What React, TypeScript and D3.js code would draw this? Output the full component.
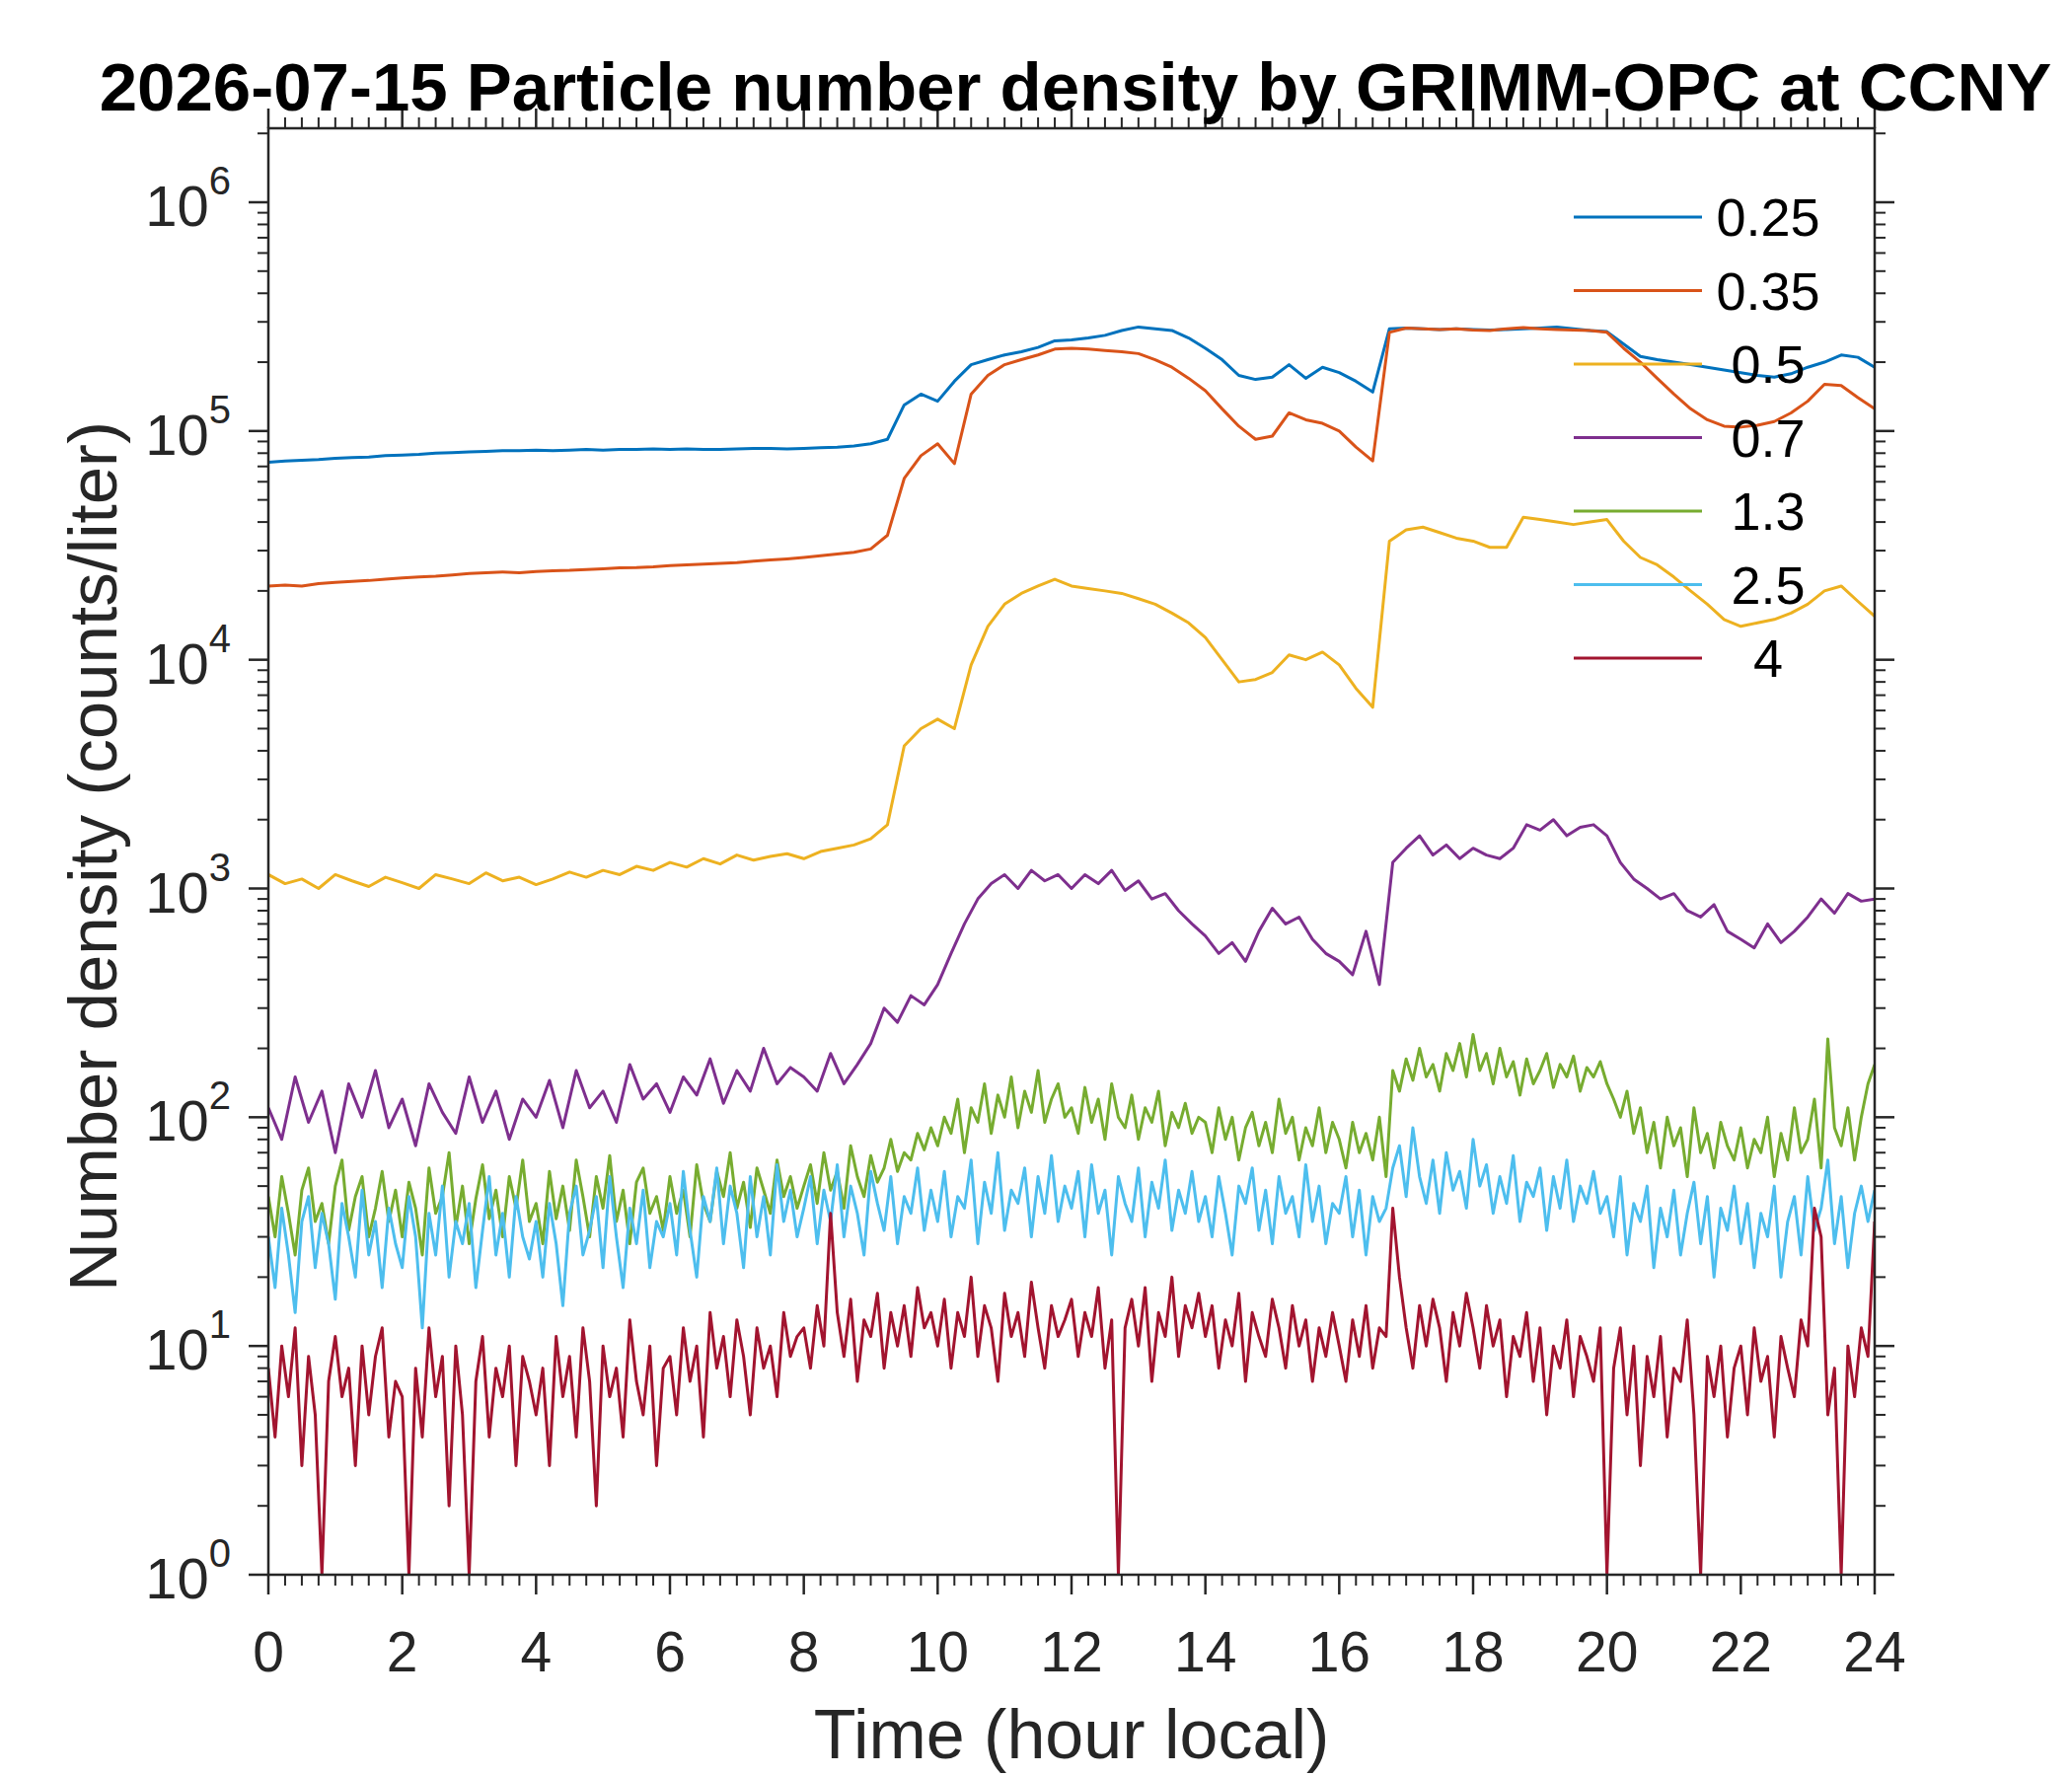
import React from "react";
import * as d3 from "d3";

const sizeLabels = ["0.25", "0.35", "0.5", "0.7", "1.3", "2.5", "4"];
const colors = ["#0072BD", "#D95319", "#EDB120", "#7E2F8E", "#77AC30", "#4DBEEE", "#A2142F"];
const xTicks = [0, 2, 4, 6, 8, 10, 12, 14, 16, 18, 20, 22, 24];
const yDecades = [0, 1, 2, 3, 4, 5, 6];

// 15-minute sampled series
const s025 = [
  73000,74000,74500,75000,76000,76500,77000,78000,78500,79000,80000,80500,81000,81500,82000,82000,82500,
  82000,82500,83000,82500,83000,83000,83500,83000,83500,83000,83000,83500,84000,84000,83500,84000,
  84500,85000,86000,88000,92000,130000,145000,135000,165000,195000,205000,215000,222000,232000,248000,250000,
  255000,262000,275000,285000,280000,275000,255000,230000,205000,175000,168000,172000,195000,170000,190000,180000,
  165000,148000,280000,282000,280000,278000,280000,278000,276000,278000,280000,282000,285000,280000,275000,272000,
  240000,212000,205000,200000,195000,190000,185000,180000,175000,172000,178000,190000,200000,215000,210000,190000,
];
const s035 = [
  21000,21200,21000,21500,21800,22000,22200,22500,22800,23000,23200,23500,23800,24000,24200,24000,24300,
  24500,24600,24800,25000,25200,25300,25500,25800,26000,26200,26400,26600,27000,27300,27600,28000,
  28500,29000,29500,30500,35000,62000,78000,88000,72000,145000,175000,195000,205000,215000,228000,230000,
  228000,225000,222000,218000,205000,190000,170000,150000,125000,105000,92000,95000,120000,112000,108000,100000,
  85000,74000,270000,282000,280000,278000,280000,276000,275000,280000,283000,280000,278000,276000,275000,270000,
  230000,200000,170000,145000,125000,112000,105000,104000,106000,110000,120000,135000,160000,158000,140000,125000,
];
const s05 = [
  1150,1050,1100,1000,1150,1080,1020,1120,1060,1000,1150,1100,1050,1170,1080,1120,1040,
  1100,1180,1120,1200,1150,1250,1200,1300,1240,1350,1280,1400,1330,1380,1420,1350,
  1450,1500,1550,1650,1900,4200,5000,5500,5000,9500,14000,17500,19500,21000,22500,21000,
  20500,20000,19500,18500,17500,16000,14500,12500,10000,8000,8200,8800,10500,10000,10800,9500,
  7500,6200,33000,37000,38000,36000,34000,33000,31000,31000,42000,41000,40000,39000,40000,41000,
  33000,28000,26000,23000,20000,17500,15000,14000,14500,15000,16000,17500,20000,21000,18000,15500,
];
// 12-minute sampled series
const s07 = [
  110,80,150,95,130,70,140,100,160,90,
  120,75,140,105,85,150,95,130,80,120,
  100,145,90,160,110,130,95,170,120,140,
  105,150,125,180,115,160,130,200,140,165,
  150,130,190,140,170,210,300,260,340,310,
  380,520,700,900,1050,1150,1000,1200,1080,1150,
  1000,1150,1050,1200,980,1080,900,950,800,700,
  620,520,580,480,650,820,700,750,600,520,
  480,420,650,380,1300,1500,1700,1400,1550,1350,
  1500,1400,1350,1500,1900,1800,2000,1700,1850,1900,
  1700,1300,1100,1000,900,950,800,750,850,650,
  600,550,700,580,650,750,900,780,950,880,
  900,
];
// 6-minute sampled series
const s13 = [
  45,30,55,38,25,48,60,35,42,28,50,65,32,45,55,30,40,58,35,48,
  30,52,40,25,60,38,45,70,33,50,28,44,62,36,48,30,55,40,65,35,
  42,28,58,36,50,32,65,45,30,55,40,68,35,48,28,52,60,38,45,32,
  55,38,48,30,62,42,35,58,45,70,40,52,33,60,48,38,65,45,55,40,
  50,62,42,70,48,58,40,75,55,45,68,52,60,80,58,70,65,85,72,90,
  75,100,85,120,70,110,95,140,85,125,100,150,90,130,105,160,95,120,140,100,
  110,85,135,95,120,80,140,100,90,125,80,110,95,130,75,105,90,115,85,100,
  95,70,110,80,100,65,90,105,75,95,70,120,85,100,65,90,75,110,70,95,
  80,60,95,70,85,65,100,55,160,130,180,145,200,150,170,130,190,160,210,150,
  230,160,190,140,200,150,175,125,180,140,160,190,135,170,150,185,130,165,150,175,
  140,120,100,130,85,110,70,95,60,100,75,90,55,110,70,85,60,95,75,65,
  90,60,80,70,100,55,85,65,110,70,80,120,60,220,90,75,110,65,100,140,
  170,
];
const s25 = [
  30,18,40,25,14,35,45,22,38,28,16,42,30,20,48,25,35,18,40,28,
  22,45,30,12,38,25,50,20,35,28,42,18,32,55,25,38,20,45,30,24,
  35,20,42,28,15,38,50,25,32,45,22,55,30,18,40,28,48,22,35,30,
  42,25,58,32,20,45,35,60,28,50,38,22,55,30,45,25,62,35,48,30,
  40,55,28,48,35,62,30,50,38,25,58,42,32,55,28,45,38,60,32,48,
  35,58,30,45,40,65,28,52,38,70,32,48,42,60,30,55,38,68,35,50,
  40,58,30,62,38,48,25,55,42,35,60,30,52,40,65,32,48,38,58,35,
  45,30,55,38,25,50,42,60,32,48,28,55,38,45,30,62,35,50,28,42,
  38,55,30,48,25,45,35,40,60,75,45,90,55,42,65,38,70,48,58,40,
  80,50,62,38,55,42,68,35,52,45,60,32,55,40,65,35,50,42,58,38,
  45,30,55,25,42,35,50,22,40,30,48,25,38,52,28,45,20,40,32,50,
  28,42,22,38,30,50,20,35,45,25,55,32,40,65,28,45,22,38,50,35,
  48,
];
const s4 = [
  8,4,10,6,12,3,9,5,1,7,11,6,8,3,10,5,9,12,4,7,
  6,1,8,4,12,6,9,2,10,5,1,7,11,4,8,6,10,3,9,7,
  5,8,3,11,6,9,4,12,7,2,10,6,8,4,13,7,5,10,3,8,
  9,5,12,7,10,4,14,8,11,6,13,9,5,12,8,10,6,14,9,11,
  12,8,15,10,38,14,9,16,7,13,11,17,8,14,10,15,9,18,12,14,
  10,16,8,14,11,20,9,15,12,7,17,11,14,9,19,12,8,15,11,13,
  16,9,14,11,18,8,13,1,12,16,10,18,7,14,11,20,9,15,12,17,
  11,15,8,13,10,17,7,14,11,9,16,12,8,15,10,13,7,12,9,14,
  10,7,13,9,15,8,12,11,40,20,12,8,15,10,16,12,7,14,10,17,
  12,8,15,10,13,6,11,9,14,7,12,5,10,8,13,6,11,9,7,12,
  1,8,12,5,10,3,9,6,11,4,8,7,13,5,1,9,6,10,4,8,
  10,5,12,7,9,4,11,8,6,13,10,40,30,5,8,1,10,6,12,9,
  35,
];
const allSeries = [s025, s035, s05, s07, s13, s25, s4];

const W = 2100, H = 1800;
const L = 272, R = 1900, T = 130, B = 1596;
const font = "'Liberation Sans', Arial, Helvetica, sans-serif";
const axisColor = "#262626";

export default function App() {
  const x = d3.scaleLinear().domain([0, 24]).range([L, R]);
  const yy = d3.scaleLog().domain([1, 1e6]).range([B, 205]);
  const line = (arr: number[]) => {
    const step = 24 / (arr.length - 1);
    return d3.line<number>().x((_, i) => x(i * step)).y((v) => yy(Math.max(1, v)))(arr) || "";
  };
  const minorX = d3.range(0, 24.001, 0.25).filter((v) => Math.abs(v / 2 - Math.round(v / 2)) > 1e-6);
  const minorY: number[] = [];
  yDecades.forEach((d) => {
    for (let k = 2; k <= 9; k++) {
      const v = k * Math.pow(10, d);
      if (yy(v) >= T) minorY.push(v);
    }
  });
  const legY0 = 220, legDy = 74.5;
  return (
    <svg width={W} height={H} style={{ position: "absolute", left: 0, top: 0, background: "#fff" }} fontFamily={font}>
      <rect width={W} height={H} fill="#fff" />
      <defs>
        <clipPath id="plot">
          <rect x={L} y={T} width={R - L} height={B - T} />
        </clipPath>
      </defs>
      <g clipPath="url(#plot)">
        {allSeries.map((s, i) => (
          <path key={i} d={line(s)} fill="none" stroke={colors[i]} strokeWidth={3} strokeLinejoin="round" />
        ))}
      </g>
      <rect x={L} y={T} width={R - L} height={B - T} fill="none" stroke={axisColor} strokeWidth={2.5} />
      {xTicks.map((t) => (
        <g key={"xt" + t}>
          <line x1={x(t)} x2={x(t)} y1={B} y2={B + 20} stroke={axisColor} strokeWidth={2.5} />
          <line x1={x(t)} x2={x(t)} y1={T} y2={T - 20} stroke={axisColor} strokeWidth={2.5} />
          <text x={x(t)} y={B + 98} fontSize={57} textAnchor="middle" fill={axisColor}>{t}</text>
        </g>
      ))}
      {minorX.map((t) => (
        <g key={"xm" + t}>
          <line x1={x(t)} x2={x(t)} y1={B} y2={B + 11} stroke={axisColor} strokeWidth={2} />
          <line x1={x(t)} x2={x(t)} y1={T} y2={T - 11} stroke={axisColor} strokeWidth={2} />
        </g>
      ))}
      {yDecades.map((d) => (
        <g key={"yt" + d}>
          <line x1={L} x2={L - 20} y1={yy(Math.pow(10, d))} y2={yy(Math.pow(10, d))} stroke={axisColor} strokeWidth={2.5} />
          <line x1={R} x2={R + 20} y1={yy(Math.pow(10, d))} y2={yy(Math.pow(10, d))} stroke={axisColor} strokeWidth={2.5} />
          <text x={L - 38} y={yy(Math.pow(10, d)) + 24} fontSize={58} textAnchor="end" fill={axisColor}>
            10<tspan dy={-32} fontSize={40}>{d}</tspan>
          </text>
        </g>
      ))}
      {minorY.map((v, i) => (
        <g key={"ym" + i}>
          <line x1={L} x2={L - 11} y1={yy(v)} y2={yy(v)} stroke={axisColor} strokeWidth={2} />
          <line x1={R} x2={R + 11} y1={yy(v)} y2={yy(v)} stroke={axisColor} strokeWidth={2} />
        </g>
      ))}
      <text x={1090} y={112} fontSize={69} fontWeight="bold" textAnchor="middle" fill="#000">
        2026-07-15 Particle number density by GRIMM-OPC at CCNY
      </text>
      <text x={(L + R) / 2} y={1782} fontSize={70} textAnchor="middle" fill={axisColor}>Time (hour local)</text>
      <text transform={`translate(118, ${(T + B) / 2 + 5}) rotate(-90)`} fontSize={69} textAnchor="middle" fill={axisColor}>
        Number density (counts/liter)
      </text>
      {sizeLabels.map((lab, i) => (
        <g key={"lg" + i}>
          <line x1={1595} x2={1725} y1={legY0 + i * legDy} y2={legY0 + i * legDy} stroke={colors[i]} strokeWidth={3} />
          <text x={1792} y={legY0 + i * legDy + 19} fontSize={54} textAnchor="middle" fill="#000">{lab}</text>
        </g>
      ))}
    </svg>
  );
}
